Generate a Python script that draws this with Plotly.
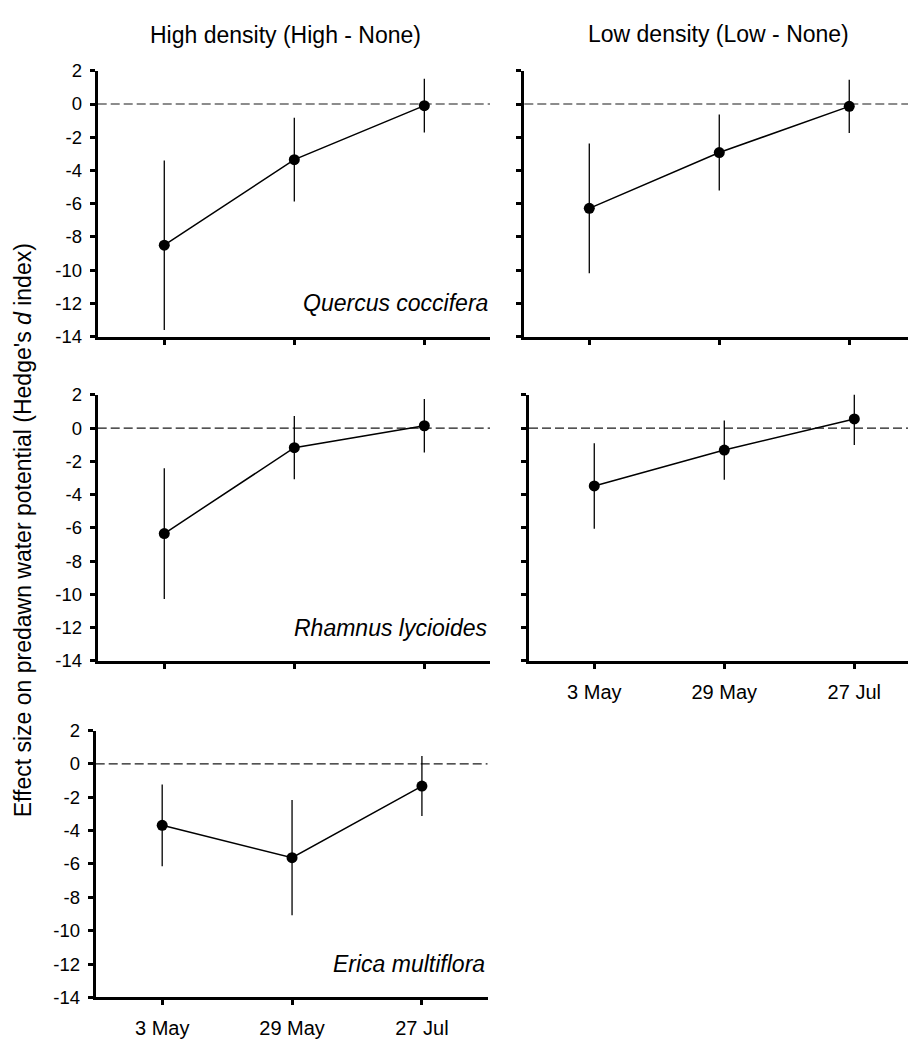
import plotly.graph_objects as go

# ---------------- data ----------------
dates = ["3 May", "29 May", "27 Jul"]
yticks = [-14, -12, -10, -8, -6, -4, -2, 0, 2]
ytick_labels = ["-14", "-12", "-10", "-8", "-6", "-4", "-2", "0", "2"]

quercus_high = [-8.5, -3.35, -0.1]
quercus_high_err = [5.1, 2.52, 1.62]
quercus_low = [-6.28, -2.92, -0.14]
quercus_low_err = [3.9, 2.29, 1.6]
rhamnus_high = [-6.34, -1.18, 0.14]
rhamnus_high_err = [3.93, 1.9, 1.61]
rhamnus_low = [-3.48, -1.32, 0.55]
rhamnus_low_err = [2.57, 1.78, 1.57]
erica_high = [-3.68, -5.62, -1.33]
erica_high_err = [2.45, 3.46, 1.8]

col_titles = ["High density (High - None)", "Low density (Low - None)"]
species = ["Quercus coccifera", "Rhamnus lycioides", "Erica multiflora"]
ytitle = "Effect size on predawn water potential (Hedge's <i>d</i> index)"

# ---------------- layout config (pixel boxes) ----------------
W, H = 908, 1043
FONT = "Liberation Sans, Arial, sans-serif"

panels = [
    dict(y=quercus_high, e=quercus_high_err, box=(97.7, 490, 61, 332.3), xr=[-0.512, 2.505],
         ylab=True, xlab=False, sp=species[0]),
    dict(y=quercus_low, e=quercus_low_err, box=(524.3, 908, 61, 332.3), xr=[-0.5, 2.452],
         ylab=False, xlab=False, sp=None),
    dict(y=rhamnus_high, e=rhamnus_high_err, box=(97.7, 490, 391.7, 663.3), xr=[-0.512, 2.505],
         ylab=True, xlab=False, sp=species[1]),
    dict(y=rhamnus_low, e=rhamnus_low_err, box=(529, 908, 391.7, 663.3), xr=[-0.502, 2.413],
         ylab=False, xlab=True, sp=None),
    dict(y=erica_high, e=erica_high_err, box=(95.7, 487.5, 734.3, 1006.7), xr=[-0.512, 2.505],
         ylab=True, xlab=True, sp=species[2]),
]

fig = go.Figure()
layout = dict(
    width=W, height=H, autosize=False,
    margin=dict(l=0, r=0, t=0, b=0),
    paper_bgcolor="white", plot_bgcolor="white",
    showlegend=False,
    font=dict(family=FONT, color="black"),
)
shapes = []
annotations = []

for i, p in enumerate(panels, start=1):
    xa = "x" if i == 1 else f"x{i}"
    ya = "y" if i == 1 else f"y{i}"
    x0, x1, y0, y1 = p["box"]
    fig.add_trace(go.Scatter(
        x=dates, y=p["y"], xaxis=xa, yaxis=ya,
        mode="lines+markers",
        line=dict(color="black", width=1.5),
        marker=dict(color="black", size=11),
        error_y=dict(type="data", array=p["e"], visible=True, color="black",
                     thickness=1.3, width=0),
        cliponaxis=False,
    ))
    xkey = "xaxis" if i == 1 else f"xaxis{i}"
    ykey = "yaxis" if i == 1 else f"yaxis{i}"
    layout[xkey] = dict(
        domain=[x0 / W, x1 / W], anchor=ya, type="category",
        categoryorder="array", categoryarray=dates,
        range=p["xr"], showgrid=False, zeroline=False,
        showline=True, linecolor="black", linewidth=3,
        ticks="outside", ticklen=5, tickwidth=2.5, tickcolor="black",
        showticklabels=p["xlab"], tickfont=dict(size=20, family=FONT, color="black"),
        ticklabelstandoff=6,
    )
    layout[ykey] = dict(
        domain=[1 - y1 / H, 1 - y0 / H], anchor=xa,
        range=[-14, 2], tickvals=yticks, ticktext=ytick_labels,
        showgrid=False, zeroline=False,
        showline=True, linecolor="black", linewidth=3,
        ticks="outside", ticklen=5, tickwidth=2.5, tickcolor="black",
        showticklabels=p["ylab"], tickfont=dict(size=18.5, family=FONT, color="black"),
        ticklabelstandoff=4,
    )
    shapes.append(dict(
        type="line", xref=f"{xa} domain", yref=ya, x0=0, x1=1, y0=0, y1=0,
        line=dict(color="#1a1a1a", width=1.1, dash="9px,4px"), layer="below",
    ))
    if p["sp"]:
        annotations.append(dict(
            text=f"<i>{p['sp']}</i>", xref=f"{xa} domain", yref=ya,
            x=1, y=-12, xanchor="right", yanchor="middle", showarrow=False,
            font=dict(size=23, family=FONT, color="black"),
        ))

annotations.append(dict(text=col_titles[0], xref="paper", yref="paper",
                        x=285.8 / W, y=1 - 24 / H, xanchor="center", yanchor="middle",
                        showarrow=False, font=dict(size=23, family=FONT, color="black")))
annotations.append(dict(text=col_titles[1], xref="paper", yref="paper",
                        x=718 / W, y=1 - 23 / H, xanchor="center", yanchor="middle",
                        showarrow=False, font=dict(size=23, family=FONT, color="black")))
annotations.append(dict(text=ytitle, xref="paper", yref="paper",
                        x=23 / W, y=1 - 530 / H, xanchor="center", yanchor="middle",
                        textangle=-90, showarrow=False,
                        font=dict(size=23, family=FONT, color="black")))

layout["shapes"] = shapes
layout["annotations"] = annotations
fig.update_layout(**layout)
fig.write_html("out.html")
